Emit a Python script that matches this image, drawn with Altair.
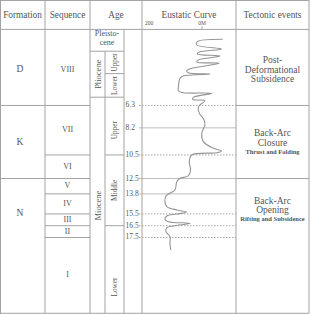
import altair as alt
import pandas as pd

# ---------------- data ----------------
formations = ["D", "K", "N"]
formation_label_age = [3.2, 9.4, 15.4]
formation_bounds = [6.3, 12.5]

sequences = ["VIII", "VII", "VI", "V", "IV", "III", "II", "I"]
sequence_label_age = [3.3, 8.4, 11.5, 13.15, 14.65, 16.0, 17.0, 20.7]
sequence_bounds = [6.3, 10.5, 12.5, 13.8, 15.5, 16.5, 17.5]

age_marks = [6.3, 8.2, 10.5, 12.5, 13.8, 15.5, 16.5, 17.5]
age_labels = ["6.3", "8.2", "10.5", "12.5", "13.8", "15.5", "16.5", "17.5"]
solid_marks = [8.2, 12.5, 13.8]

pleistocene_base = 1.7
pliocene_mid = 3.6
pliocene_base = 5.6
miocene_upper_base = 10.5
miocene_middle_base = 16.5

tectonic_bounds = [6.3, 12.5]
tectonic_main = ["Post-", "Deformational", "Subsidence", "Back-Arc", "Closure", "Back-Arc", "Opening"]
tectonic_main_age = [2.44, 3.29, 4.06, 8.64, 9.48, 14.40, 15.17]
tectonic_sub = ["Thrust and Folding", "Rifting and Subsidence"]
tectonic_sub_age = [10.25, 15.93]

# eustatic curve: age (Ma) and sea level (m, 200 to the left, 0M marked)
curve_age = [0.69, 0.89, 1.17, 1.51, 1.77, 1.94, 2.11, 2.44, 2.61, 2.72, 3.18, 3.35,
             3.52, 3.63, 3.80, 4.00, 4.71, 5.07, 5.22, 5.27, 5.61, 5.78, 5.90, 6.26,
             6.46, 6.97, 7.53, 7.96, 8.66, 9.37, 9.93, 10.16, 10.31, 10.50, 11.07, 11.77,
             12.28, 12.48, 12.77, 13.47, 13.75, 13.98, 14.46, 14.89, 15.17, 15.34, 15.51,
             15.68, 15.96, 16.16, 16.30, 16.52, 16.67, 17.01, 17.43, 18.0, 18.56]
curve_level = [-78, 18, 20, -74, 10, 18, -68, 14, 20, -65, 45, 58,
               52, -30, 71, 83, 89, 89, 71, -37, 33, 35, -11, 8,
               14, 10, -8, -11, 1, -5, -43, -74, -55, 39, 48, 43,
               52, 83, 95, 102, 121, 136, 140, 133, 95, 58, 95,
               133, 140, 127, 45, 108, 133, 136, 121, 121, 118]
curve_ticks = [200, 0]
curve_tick_labels = ["200", "0M"]

# ---------------- layout ----------------
W, H = 311, 314
TOP_AGE, BODY_TOP, BOTTOM_AGE = -2.645, -0.15, 23.99
HEAD_AGE = -1.4
BOT_LINE = 23.93
X_L, X_FORM, X_SEQ, X_EP, X_SUB, X_NUM, X_EUS, X_R = 0.5, 45, 90, 105, 124, 142, 236, 309

LINE = "#a3a3a3"
TXT = "#555555"
FONT = "Liberation Serif"

xs = alt.Scale(domain=[0, W], nice=False, zero=False)
ys = alt.Scale(domain=[TOP_AGE, BOTTOM_AGE], nice=False, zero=False, reverse=True)

# horizontal segments
h = [(X_L, X_R, TOP_AGE + 0.04), (X_L, X_R, BODY_TOP), (X_L, X_R, BOT_LINE)]
for a in formation_bounds:
    h.append((X_L, X_FORM, a))
for a in sequence_bounds:
    h.append((X_FORM, X_SEQ, a))
for a in [pleistocene_base, pliocene_base]:
    h.append((X_SEQ, X_SUB, a))
for a in [pliocene_mid, miocene_upper_base, miocene_middle_base]:
    h.append((X_EP, X_SUB, a))
for a in tectonic_bounds:
    h.append((X_EUS, X_R, a))
hdf = pd.DataFrame(h, columns=["x1", "x2", "age"])

v = [(X_L, TOP_AGE, BOTTOM_AGE), (X_FORM, TOP_AGE, BOT_LINE), (X_SEQ, TOP_AGE, BOT_LINE),
     (X_NUM, TOP_AGE, BOT_LINE), (X_EUS, TOP_AGE, BOT_LINE), (X_R, TOP_AGE, BOT_LINE),
     (X_SUB, BODY_TOP, BOT_LINE), (X_EP, pleistocene_base, BOT_LINE)]
vdf = pd.DataFrame(v, columns=["x", "a1", "a2"])

marks_df = pd.DataFrame({"age": age_marks, "label": age_labels})
marks_df["solid"] = marks_df["age"].isin(solid_marks)
marks_df["x1"] = 139
marks_df["x2"] = X_EUS

hrules = alt.Chart(hdf).mark_rule(color=LINE, strokeWidth=1).encode(
    x=alt.X("x1:Q", scale=xs, axis=None), x2="x2:Q",
    y=alt.Y("age:Q", scale=ys, axis=None))
vrules = alt.Chart(vdf).mark_rule(color=LINE, strokeWidth=1).encode(
    x=alt.X("x:Q", scale=xs, axis=None),
    y=alt.Y("a1:Q", scale=ys, axis=None), y2="a2:Q")
solid_lines = alt.Chart(marks_df[marks_df.solid]).mark_rule(color="#bdbdbd", strokeWidth=1).encode(
    x=alt.X("x1:Q", scale=xs, axis=None), x2="x2:Q",
    y=alt.Y("age:Q", scale=ys, axis=None))
dot_lines = alt.Chart(marks_df[~marks_df.solid]).mark_rule(color="#a8a8a8", strokeWidth=1, strokeDash=[1.5, 1.5]).encode(
    x=alt.X("x1:Q", scale=xs, axis=None), x2="x2:Q",
    y=alt.Y("age:Q", scale=ys, axis=None))

# texts
header_df = pd.DataFrame({
    "t": ["Formation", "Sequence", "Age", "Eustatic Curve", "Tectonic events"],
    "x": [22.5, 67.5, 116, 189, 272.5], "age": [HEAD_AGE] * 5})
form_df = pd.DataFrame({"t": formations, "x": [20] * 3, "age": formation_label_age})
seq_df = pd.DataFrame({"t": sequences, "x": [67.5] * len(sequences), "age": sequence_label_age})
pleis_df = pd.DataFrame({"t": ["Pleisto-", "cene"], "x": [107, 107], "age": [0.24, 1.0]})
vert_df = pd.DataFrame({
    "t": ["Pliocene", "Upper", "Lower", "Miocene", "Upper", "Middle", "Lower"],
    "x": [97.5, 114.5, 114.5, 97.5, 114.5, 114.5, 114.5],
    "age": [(pleistocene_base + pliocene_base) / 2, (pleistocene_base + pliocene_mid) / 2,
            (pliocene_mid + pliocene_base) / 2, 14.8, 8.4, 13.5, 21.7]})
vert_size = [8.5, 7.3, 7.3, 8.5, 7.3, 7.3, 7.3]
vert_df["s"] = vert_size
num_df = pd.DataFrame({"t": age_labels, "x": [125.5] * len(age_labels), "age": age_marks})
tec_df = pd.DataFrame({"t": tectonic_main, "x": [272.5] * len(tectonic_main), "age": tectonic_main_age})
tec_sub_df = pd.DataFrame({"t": tectonic_sub, "x": [272.5] * 2, "age": tectonic_sub_age})


def text_layer(df, size, align="center", weight="normal", angle=0):
    kw = dict(font=FONT, fontSize=size, color=TXT, align=align, baseline="middle", fontWeight=weight)
    if angle:
        kw["angle"] = angle
    return alt.Chart(df).mark_text(**kw).encode(
        x=alt.X("x:Q", scale=xs, axis=None),
        y=alt.Y("age:Q", scale=ys, axis=None),
        text="t:N")


vert_layers = []
for s in sorted(set(vert_size)):
    vert_layers.append(text_layer(vert_df[vert_df.s == s], s, angle=270))

table = alt.layer(
    solid_lines, dot_lines, hrules, vrules,
    text_layer(header_df, 9.3),
    text_layer(form_df, 9.5),
    text_layer(seq_df, 8),
    text_layer(pleis_df, 8),
    *vert_layers,
    text_layer(num_df, 7.5, align="left"),
    text_layer(tec_df, 9.5),
    text_layer(tec_sub_df, 6.5, weight="bold"),
)

# eustatic curve on its own sea-level scale
cs = alt.Scale(domain=[-411.3, 762.3], reverse=True, nice=False, zero=False)
curve_df = pd.DataFrame({"i": list(range(len(curve_age))), "age": curve_age, "level": curve_level})
curve_line = alt.Chart(curve_df).mark_line(color="#959595", strokeWidth=1.1, interpolate="catmull-rom").encode(
    x=alt.X("level:Q", scale=cs, axis=None),
    y=alt.Y("age:Q", scale=ys, axis=None),
    order=alt.Order("i:Q"))
tick_df = pd.DataFrame({"level": curve_ticks, "t": curve_tick_labels, "age": [-0.69, -0.69]})
tick_text = alt.Chart(tick_df).mark_text(font=FONT, fontSize=5.5, color=TXT, baseline="middle").encode(
    x=alt.X("level:Q", scale=cs, axis=None),
    y=alt.Y("age:Q", scale=ys, axis=None), text="t:N")
zero_tick = alt.Chart(pd.DataFrame({"level": [0], "a1": [-0.42], "a2": [BODY_TOP]})).mark_rule(
    color=LINE, strokeWidth=1).encode(
    x=alt.X("level:Q", scale=cs, axis=None),
    y=alt.Y("a1:Q", scale=ys, axis=None), y2="a2:Q")
curve = alt.layer(curve_line, tick_text, zero_tick)

chart = alt.layer(table, curve).resolve_scale(x="independent").properties(
    width=W, height=H, padding=0, autosize=alt.AutoSizeParams(type="none"),
    background="white"
).configure_view(strokeWidth=0)

chart.save("out.html", embed_options={"renderer": "svg", "actions": False})
